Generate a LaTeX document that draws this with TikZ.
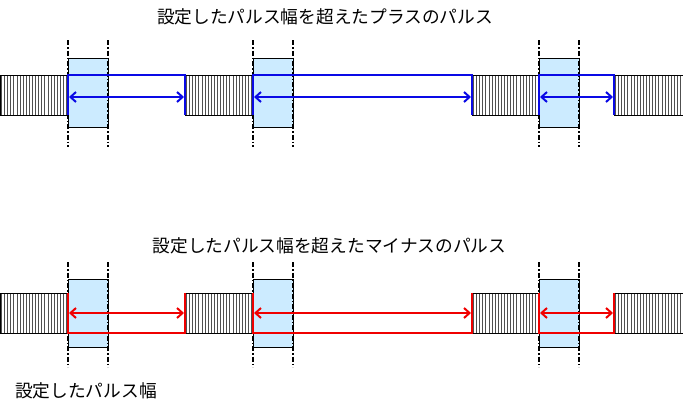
\documentclass[tikz,border=0pt]{standalone}
\usepackage{fontspec}
\setmainfont{Noto Sans CJK JP}
\usetikzlibrary{arrows.meta}
\definecolor{pblue}{RGB}{10,10,230}
\definecolor{pred}{RGB}{240,0,0}
\definecolor{winfill}{RGB}{204,235,255}
\definecolor{hatchgray}{RGB}{80,80,80}
\newcommand\hblk[4]{%
  \begin{scope}
    \clip (#1,#2) rectangle (#3,#4);
    \foreach \i in {0,...,23} {\draw[hatchline] (#1+1.5+3.1*\i,#2) -- (#1+1.5+3.1*\i,#4);}
  \end{scope}
  \draw[hatchbox] (#1,#2) rectangle (#3,#4);}
\begin{document}
\begin{tikzpicture}[x=1pt,y=-1pt,
  hatchline/.style={hatchgray, line width=1pt},
  hatchbox/.style={draw=black, line width=0.9pt},
  winbox/.style={draw=black, line width=0.9pt, fill=winfill},
  guide/.style={black, line width=1.2pt, dash pattern=on 5pt off 2pt on 1.5pt off 2pt},
  pulse/.style={line width=2.8pt, line join=miter},
  arr/.style={line width=2pt, {Straight Barb[length=5.5pt,width=10pt,line width=2pt]}-{Straight Barb[length=5.5pt,width=10pt,line width=2pt]}},
  ttl/.style={inner sep=0pt, font=\fontsize{17.7}{20}\selectfont}]
\useasboundingbox[fill=white] (0,0) rectangle (683,415);

% titles
\node[ttl] (t1) at (325,17) {設定したパルス幅を超えたプラスのパルス};
\node[ttl] (t2) at (329.5,246) {設定したパルス幅を超えたマイナスのパルス};
\node[ttl, anchor=west] (t3) at (15,391) {設定したパルス幅};

% ---------- top row ----------
\hblk{0}{75}{68}{115}
\hblk{185}{75}{253}{115}
\hblk{472}{75}{539}{115}
\hblk{614}{75}{684}{115}
\draw[winbox] (68,58) rectangle (108,127);
\draw[winbox] (253,58) rectangle (293,127);
\draw[winbox] (539,58) rectangle (579,127);
\foreach \x in {68,108,253,293,539,579} {\draw[guide] (\x,40) -- (\x,147);}
\draw[pulse, pblue] (68,115) -- (68,75) -- (185,75) -- (185,115);
\draw[pulse, pblue] (253,115) -- (253,75) -- (472,75) -- (472,115);
\draw[pulse, pblue] (539,115) -- (539,75) -- (614,75) -- (614,115);
\coordinate (ua1) at (69,97);  \coordinate (ub1) at (184,97);
\coordinate (ua2) at (254,97); \coordinate (ub2) at (471,97);
\coordinate (ua3) at (540,97); \coordinate (ub3) at (613,97);
\draw[arr, pblue] (ua1) -- (ub1);
\draw[arr, pblue] (ua2) -- (ub2);
\draw[arr, pblue] (ua3) -- (ub3);

% ---------- bottom row ----------
\hblk{0}{293}{68}{333}
\hblk{185}{293}{253}{333}
\hblk{472}{293}{539}{333}
\hblk{614}{293}{684}{333}
\draw[winbox] (68,279) rectangle (108,347);
\draw[winbox] (253,279) rectangle (293,347);
\draw[winbox] (539,279) rectangle (579,347);
\foreach \x in {68,108,253,293,539,579} {\draw[guide] (\x,262) -- (\x,367);}
\draw[pulse, pred] (68,293) -- (68,333) -- (185,333) -- (185,293);
\draw[pulse, pred] (253,293) -- (253,333) -- (472,333) -- (472,293);
\draw[pulse, pred] (539,293) -- (539,333) -- (614,333) -- (614,293);
\coordinate (la1) at (69,313);  \coordinate (lb1) at (184,313);
\coordinate (la2) at (254,313); \coordinate (lb2) at (471,313);
\coordinate (la3) at (540,313); \coordinate (lb3) at (613,313);
\draw[arr, pred] (la1) -- (lb1);
\draw[arr, pred] (la2) -- (lb2);
\draw[arr, pred] (la3) -- (lb3);
\end{tikzpicture}
\end{document}
